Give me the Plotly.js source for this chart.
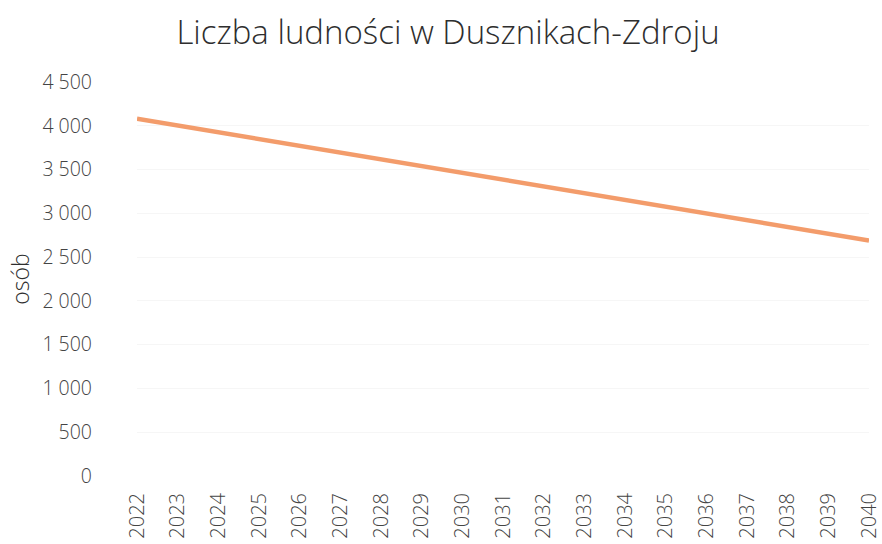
<!DOCTYPE html>
<html><head><meta charset="utf-8">
<script src="https://cdn.plot.ly/plotly-3.0.1.min.js"></script>
<style>html,body{margin:0;padding:0;background:#fff}#c{width:882px;height:544px}</style>
</head><body><div id="c"></div>
<script>
const years = ['2022','2023','2024','2025','2026','2027','2028','2029','2030','2031','2032','2033','2034','2035','2036','2037','2038','2039','2040'];
const population = [4080,4003,3926,3849,3771,3694,3617,3540,3462,3385,3308,3231,3153,3076,2999,2922,2845,2767,2690];
const yTicks = [0,500,1000,1500,2000,2500,3000,3500,4000,4500];

const FONT = '"Open Sans", "Noto Sans", sans-serif';
const trace = {x: years, y: population, type: 'scatter', mode: 'lines',
  line: {color: '#F39C6B', width: 4.5, shape: 'linear'}, hoverinfo: 'x+y'};

const layout = {
  width: 882, height: 544,
  margin: {l: 137, r: 13, t: 82, b: 68},
  paper_bgcolor: '#fff', plot_bgcolor: '#fff',
  separators: ', ',
  showlegend: false,
  title: {text: 'Liczba ludności w Dusznikach-Zdroju', x: 0.508, xanchor: 'center', y: 0.94, yanchor: 'middle',
    font: {family: FONT, size: 33, color: '#2e2e2e', weight: 300}},
  xaxis: {type: 'category', range: [0, 18], showgrid: false, zeroline: false, showline: false,
    tickangle: -90, ticks: '', ticklabelstandoff: 12,
    tickfont: {family: FONT, size: 20, color: '#444444', weight: 300}},
  yaxis: {range: [0, 4500], tickvals: yTicks, tickformat: ',d', showgrid: true, gridcolor: '#f6f6f6',
    zeroline: false, showline: false, ticks: '', ticklabelstandoff: 44,
    tickfont: {family: FONT, size: 19.5, color: '#444444', weight: 300},
    title: {text: 'osób', standoff: 6, font: {family: FONT, size: 23, color: '#2e2e2e', weight: 300}}}
};
Plotly.newPlot('c', [trace], layout, {displayModeBar: false, staticPlot: true});
</script></body></html>
